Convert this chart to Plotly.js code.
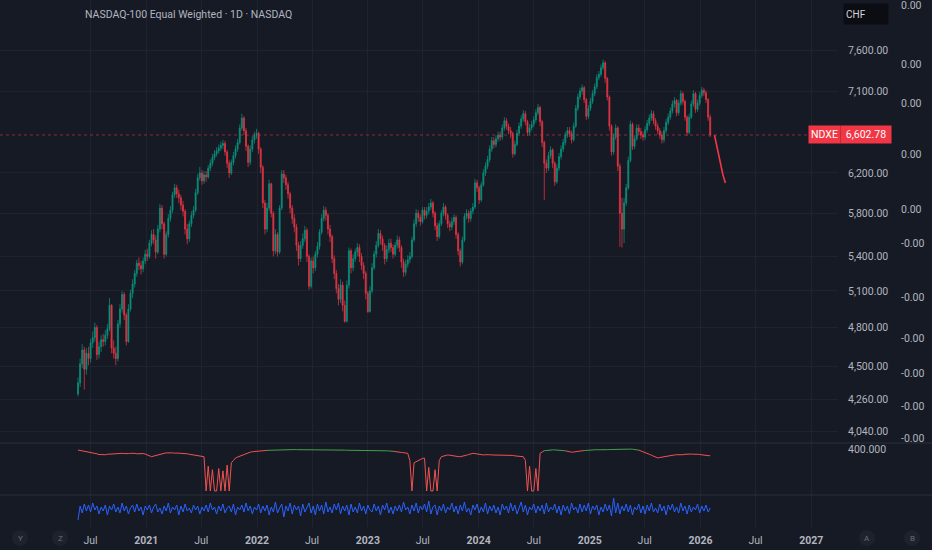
<!DOCTYPE html>
<html>
<head>
<meta charset="utf-8">
<script src="https://cdn.plot.ly/plotly-3.0.1.min.js"></script>
<style>
  html, body { margin: 0; padding: 0; background: #161a25; }
  #chart { width: 932px; height: 550px; }
</style>
</head>
<body>
<div id="chart"></div>
<script>
// NASDAQ-100 Equal Weighted, one candle per period (~1 week)
const firstOpen = 4300
const closes = [
  4380,4520,4625,4480,4600,4560,4680,4720,4800,4590,
  4650,4704,4690,4740,4790,4980,4640,4600,4560,4830,
  4950,5070,4900,4690,4950,5080,5160,5250,5340,5320,
  5290,5360,5420,5400,5520,5600,5550,5440,5650,5850,
  5700,5420,5600,5750,5830,5980,6050,5990,5950,5880,
  5820,5650,5560,5700,5780,5830,6000,6150,6200,6120,
  6180,6160,6250,6300,6360,6400,6430,6460,6490,6510,
  6420,6300,6200,6310,6380,6450,6520,6680,6790,6650,
  6480,6310,6450,6550,6600,6620,6450,6260,5900,5650,
  5850,6090,5800,5450,5600,5440,5850,6190,6150,6080,
  5990,5850,5750,5670,5500,5380,5500,5560,5640,5400,
  5140,5360,5300,5420,5490,5620,5750,5830,5780,5650,
  5580,5380,5250,5120,5030,5150,4980,4850,5150,5450,
  5300,5380,5440,5480,5400,5320,5250,5080,4930,5100,
  5300,5420,5500,5610,5560,5500,5380,5460,5520,5480,
  5420,5500,5550,5480,5350,5260,5330,5370,5400,5550,
  5700,5800,5760,5720,5830,5780,5820,5860,5900,5800,
  5680,5580,5700,5800,5860,5780,5700,5670,5720,5760,
  5600,5450,5350,5550,5770,5800,5750,5820,5860,6100,
  6050,5930,6080,6200,6270,6340,6450,6540,6500,6560,
  6600,6580,6680,6760,6700,6650,6620,6400,6500,6620,
  6700,6780,6840,6750,6630,6680,6720,6770,6850,6910,
  6750,6520,6300,6250,6380,6440,6300,6110,6250,6370,
  6450,6520,6600,6650,6620,6550,6700,6900,7030,7100,
  7140,7000,6810,6900,6980,7070,7150,7260,7300,7380,
  7440,7250,7030,6700,6420,6580,6680,6270,5800,5650,
  5900,6050,6330,6720,6480,6560,6680,6640,6600,6580,
  6660,6730,6790,6840,6760,6700,6650,6600,6550,6650,
  6740,6800,6870,6950,6990,6850,6960,7070,6980,6800,
  6630,6800,6950,7070,6890,6960,7050,7110,7080,7000,
  6800,6602.78
]
const highs = [
  4420,4560,4670,4650,4640,4650,4710,4770,4840,4820,
  4690,4740,4750,4780,4830,5040,4990,4700,4650,4860,
  4990,5100,5090,4920,4990,5110,5200,5280,5370,5390,
  5360,5390,5460,5470,5550,5640,5650,5590,5690,5890,
  5880,5720,5630,5790,5870,6010,6090,6080,6030,5980,
  5920,5840,5700,5730,5820,5870,6040,6190,6262,6230,
  6220,6220,6280,6340,6400,6440,6470,6500,6530,6550,
  6540,6440,6330,6340,6420,6490,6560,6720,6840,6810,
  6680,6500,6490,6590,6640,6670,6640,6470,6280,5930,
  5900,6130,6100,5820,5650,5620,5880,6230,6230,6180,
  6110,6010,5880,5790,5700,5530,5540,5610,5680,5660,
  5420,5390,5400,5450,5530,5650,5790,5870,5860,5800,
  5690,5600,5410,5280,5160,5200,5180,5020,5190,5480,
  5470,5420,5470,5520,5510,5430,5350,5270,5100,5140,
  5340,5450,5540,5650,5640,5590,5520,5500,5560,5560,
  5510,5530,5590,5580,5500,5380,5370,5410,5440,5580,
  5740,5840,5830,5790,5860,5860,5860,5900,5940,5920,
  5820,5710,5730,5830,5900,5880,5800,5730,5760,5790,
  5780,5620,5470,5580,5800,5840,5830,5850,5900,6140,
  6130,6070,6110,6240,6310,6380,6490,6580,6580,6600,
  6640,6640,6720,6800,6790,6730,6690,6640,6540,6660,
  6740,6820,6880,6870,6770,6720,6760,6810,6890,6950,
  6930,6770,6540,6340,6420,6480,6460,6320,6290,6410,
  6490,6560,6640,6690,6690,6650,6740,6940,7070,7140,
  7180,7160,7020,6940,7020,7110,7190,7300,7340,7420,
  7480,7460,7270,7050,6720,6620,6720,6700,6300,5950,
  5950,6090,6370,6760,6740,6600,6720,6720,6680,6640,
  6700,6770,6830,6880,6870,6790,6730,6680,6640,6690,
  6780,6840,6910,6990,7030,7010,7000,7110,7090,7000,
  6820,6840,6990,7110,7090,7000,7090,7150,7140,7110,
  7020,6830
]
const lows = [
  4283,4350,4490,4332,4440,4510,4530,4640,4690,4550,
  4560,4610,4650,4660,4710,4770,4600,4560,4510,4540,
  4800,4920,4860,4660,4680,4930,5040,5130,5220,5280,
  5240,5260,5330,5360,5380,5490,5510,5380,5420,5620,
  5650,5380,5400,5570,5720,5800,5950,5950,5900,5830,
  5770,5600,5510,5530,5670,5750,5810,5980,6120,6080,
  6090,6110,6140,6220,6270,6330,6370,6400,6430,6450,
  6380,6250,6150,6180,6280,6350,6420,6500,6650,6600,
  6430,6260,6280,6420,6510,6560,6400,6200,5850,5600,
  5620,5820,5760,5400,5420,5400,5420,5830,6100,6030,
  5940,5800,5700,5620,5450,5320,5350,5470,5530,5350,
  5110,5120,5250,5270,5390,5460,5600,5720,5730,5600,
  5530,5340,5200,5080,4980,5000,4930,4839,4840,5120,
  5250,5270,5350,5400,5350,5280,5200,5030,4919,4920,
  5080,5280,5390,5480,5510,5450,5330,5350,5430,5440,
  5380,5400,5470,5440,5300,5220,5230,5300,5340,5380,
  5530,5670,5720,5680,5700,5740,5750,5790,5830,5760,
  5640,5540,5560,5680,5770,5740,5660,5630,5640,5690,
  5560,5410,5310,5330,5530,5740,5710,5720,5790,5840,
  6010,5890,5910,6060,6170,6240,6310,6420,6460,6470,
  6530,6540,6550,6650,6660,6610,6570,6360,6380,6480,
  6590,6670,6750,6710,6590,6600,6650,6690,6740,6820,
  6700,6470,5930,6200,6220,6350,6250,6070,6090,6220,
  6340,6420,6490,6570,6580,6510,6530,6680,6870,7000,
  7060,6960,6770,6780,6870,6950,7040,7120,7230,7270,
  7350,7200,6990,6650,6380,6390,6550,6220,5487,5480,
  5520,5870,6030,6310,6440,6450,6540,6600,6560,6540,
  6550,6630,6700,6760,6720,6660,6610,6560,6510,6520,
  6620,6710,6770,6840,6910,6810,6820,6930,6940,6760,
  6590,6610,6780,6920,6850,6860,6930,7020,7040,6960,
  6760,6580
]
// falling red line after the last candle
const tailDates = ['2026-02-16', '2026-02-26', '2026-03-07', '2026-03-16', '2026-03-24']
const tailValues = [6602.78, 6440, 6282, 6179, 6098]

// upper indicator pane (red / green line)
const indValues = [
  391,388,384,380,376,372,368,366,362,358,
  352,350,348,350,354,356,358,360,360,362,
  364,362,360,358,360,362,364,362,358,360,
  362,360,356,348,340,333,338,344,350,354,
  358,362,366,368,368,366,364,366,364,362,
  362,360,358,354,350,348,346,344,340,336,
  333,35,250,35,220,35,35,230,35,210,
  35,260,35,280,300,322,330,338,346,354,
  362,366,372,376,378,380,382,384,385,387,
  388,389,390,391,391,392,393,393,394,394,
  394,395,395,395,394,394,395,396,396,395,
  395,396,395,394,394,393,393,392,392,391,
  391,390,390,391,392,392,391,390,389,389,
  388,388,389,390,390,389,388,387,386,386,
  387,388,388,387,386,385,385,384,383,382,
  380,376,374,372,370,368,365,362,300,35,
  280,290,300,310,318,320,35,240,35,35,
  220,35,300,333,340,344,348,346,342,338,
  336,334,333,336,340,346,352,358,362,360,
  356,352,348,348,350,352,350,348,348,350,
  350,348,346,348,348,348,346,344,340,338,
  336,334,333,300,35,250,35,35,230,35,
  362,374,385,388,390,391,392,392,391,391,
  390,388,384,378,374,372,374,378,380,382,
  384,386,388,390,392,393,394,394,393,392,
  392,393,394,395,396,396,396,397,398,399,
  400,400,400,399,398,396,394,390,384,378,
  370,362,354,346,338,328,322,326,330,334,
  338,342,345,348,348,350,348,346,350,354,
  356,358,356,354,356,354,352,348,346,344,
  342,342
]
// index ranges where that line is green
const indGreenRanges = [[90, 150], [222, 232], [241, 267]]

// lower indicator pane (blue oscillator)
const oscValues = [
  -11,3,-4,5,-2,4,-3,6,-1,3,
  -5,2,-2,4,-6,3,-1,5,-3,2,
  -4,6,-2,3,-5,1,4,-3,5,-2,
  2,-6,3,-1,4,-4,2,5,-3,1,
  -5,3,-2,6,-4,2,-1,4,-6,3,
  -3,5,-2,1,-4,4,-1,3,-5,2,
  -2,4,-3,6,-1,2,-5,3,-2,5,
  -4,1,3,-3,5,-6,2,-1,4,-3,
  6,-2,3,-5,2,-1,5,-4,3,-2,
  4,-6,2,-3,7,-4,1,5,-8,3,
  -2,6,-5,4,-1,3,-7,5,-3,2,
  6,-4,3,-6,5,-2,4,-5,7,-3,
  2,-4,5,-1,6,-5,3,-2,4,-6,
  5,-3,2,-4,6,-2,3,-5,4,-1,
  -3,5,-2,3,-6,4,-1,6,-4,2,
  -5,3,-2,4,-3,7,-1,2,-5,4,
  -2,6,-4,3,-1,5,-3,8,-5,2,
  4,-6,3,-2,5,-4,2,-1,6,-3,
  3,-5,4,-2,7,-3,1,-6,4,-1,
  5,-4,2,-3,6,-5,3,-2,4,-4,
  2,-6,5,-1,3,-4,6,-2,4,-5,
  1,7,-3,4,-6,2,-1,5,-4,3,
  -2,4,-5,6,-3,2,-1,5,-4,3,
  -6,4,-2,3,-5,6,-1,2,-4,5,
  -3,4,-2,6,-5,3,-1,4,-6,2,
  -3,5,-2,4,-7,11,-4,6,-5,3,
  -2,5,-3,4,-6,2,-1,5,-4,3,
  -5,4,-2,6,-3,1,-4,5,-2,3,
  -6,4,-1,5,-3,2,-4,6,-2,3,
  -5,4,-3,2,-1,5,-4,3,-2,4,
  -3,1
]

// axis labels
const priceTicks = [4040, 4260, 4500, 4800, 5100, 5400, 5800, 6200, 7100, 7600]
const zeroScaleTicks = [0.0043, 0.00313, 0.00235, 0.00134, 0.00025, -0.00043, -0.0015, -0.00233, -0.00301, -0.00368, -0.0043]
const timeTicks = ['2020-07-01','2021-01-01','2021-07-01','2022-01-01','2022-07-01','2023-01-01','2023-07-01',
  '2024-01-01','2024-07-01','2025-01-01','2025-07-01','2026-01-01','2026-07-01','2027-01-01']
const timeLabels = ['Jul','2021','Jul','2022','Jul','2023','Jul','2024','Jul','2025','Jul','2026','Jul','2027']
const lastPrice = 6602.78

const W = 932, H = 550
const px = x => x / W
const py = y => 1 - y / H
const FONT = 'Roboto, "Noto Sans", sans-serif'
const TXT = '#b2b5be'
const GRID = '#1f2330'
const UP = '#089981', DOWN = '#f23645'

// one candle per period, spread between first and last date
const t0 = Date.UTC(2020, 4, 21)
const stepMs = 6.92 * 86400000
const dates = closes.map((c, i) => new Date(t0 + i * stepMs).toISOString().slice(0, 19).replace('T', ' '))
const opens = [firstOpen].concat(closes.slice(0, -1))

const fmt = v => v.toLocaleString('en-US', {minimumFractionDigits: 2, maximumFractionDigits: 2})

let inGreen = i => indGreenRanges.some(r => i >= r[0] && i <= r[1])
let inGreenInner = i => indGreenRanges.some(r => i > r[0] && i < r[1])
let indRed = indValues.map((v, i) => inGreenInner(i) ? null : v)
let indGreen = indValues.map((v, i) => inGreen(i) ? v : null)

let traces = [
  {
    type: 'candlestick', x: dates, open: opens, high: highs, low: lows, close: closes,
    xaxis: 'x', yaxis: 'y',
    increasing: {line: {color: UP, width: 0.7}, fillcolor: 'rgba(8,153,129,0.85)'},
    decreasing: {line: {color: DOWN, width: 0.7}, fillcolor: 'rgba(242,54,69,0.85)'},
    whiskerwidth: 0, hoverinfo: 'skip'
  },
  {
    type: 'scatter', mode: 'lines', x: ['2019-09-07', '2026-12-20'], y: [lastPrice, lastPrice],
    yaxis: 'y', line: {color: 'rgba(242,54,69,0.55)', width: 1, dash: 'dot'}, hoverinfo: 'skip'
  },
  {
    type: 'scatter', mode: 'lines', x: tailDates, y: tailValues, yaxis: 'y',
    line: {color: DOWN, width: 1.6}, hoverinfo: 'skip'
  },
  {
    type: 'scatter', mode: 'lines', x: dates, y: indRed, yaxis: 'y2',
    line: {color: '#f05350', width: 1}, connectgaps: false, hoverinfo: 'skip'
  },
  {
    type: 'scatter', mode: 'lines', x: dates, y: indGreen, yaxis: 'y2',
    line: {color: '#43a047', width: 1}, connectgaps: false, hoverinfo: 'skip'
  },
  {
    type: 'scatter', mode: 'lines', x: dates, y: oscValues, yaxis: 'y3',
    line: {color: '#2962ff', width: 1}, hoverinfo: 'skip'
  },
  {
    type: 'scatter', mode: 'markers', x: [dates[0]], y: [0], yaxis: 'y4',
    marker: {opacity: 0}, hoverinfo: 'skip'
  }
]

let badges = [['Y', 20], ['Z', 60], ['A', 867], ['B', 912]]

let layout = {
  width: W, height: H,
  margin: {l: 0, r: 0, t: 0, b: 0},
  paper_bgcolor: '#161a25',
  plot_bgcolor: '#161a25',
  showlegend: false,
  font: {family: FONT, size: 10.5, color: TXT},
  xaxis: {
    domain: [0, px(838)], type: 'date', range: ['2019-09-07', '2027-03-30'],
    anchor: 'y3', tickvals: timeTicks,
    ticktext: timeLabels.map(t => t === 'Jul' ? t : '<b>' + t + '</b>'),
    tickangle: 0,
    ticks: '', ticklabelstandoff: 5, showgrid: true, gridcolor: GRID,
    zeroline: false, showline: false, rangeslider: {visible: false},
    tickfont: {size: 10.5, color: TXT}
  },
  yaxis: {
    domain: [py(443), 1], type: 'log', range: [Math.log10(3965), Math.log10(8256)],
    side: 'right', tickvals: priceTicks, ticktext: priceTicks.map(fmt),
    ticks: '', ticklabelstandoff: 9, showgrid: true, gridcolor: GRID, zeroline: false
  },
  yaxis2: {
    domain: [py(495), py(443)], range: [0, 452], side: 'right',
    tickvals: [400], ticktext: ['400.000'],
    ticks: '', ticklabelstandoff: 9, showgrid: false, zeroline: false
  },
  yaxis3: {
    domain: [py(527), py(495)], range: [-18, 14],
    showticklabels: false, showgrid: false, zeroline: false, ticks: ''
  },
  yaxis4: {
    overlaying: 'y', anchor: 'free', position: px(897), side: 'right',
    range: [-0.0044, 0.0044], tickvals: zeroScaleTicks,
    ticktext: zeroScaleTicks.map(v => v.toFixed(2)), ticklabeloverflow: 'allow',
    ticks: '', ticklabelstandoff: 3, showgrid: false, zeroline: false, showline: false
  },
  shapes: [
    {type: 'line', xref: 'paper', yref: 'paper', x0: 0, x1: 1, y0: py(443), y1: py(443), line: {color: '#2a2e39', width: 1}},
    {type: 'line', xref: 'paper', yref: 'paper', x0: 0, x1: 1, y0: py(495), y1: py(495), line: {color: '#2a2e39', width: 1}}
  ].concat(badges.map(b => ({
    type: 'circle', xref: 'paper', yref: 'paper',
    x0: px(b[1] - 8), x1: px(b[1] + 8), y0: py(546), y1: py(530),
    fillcolor: '#1e222d', line: {width: 0}
  }))),
  annotations: [
    {
      xref: 'paper', yref: 'paper', x: px(83), y: py(14), xanchor: 'left', yanchor: 'middle',
      text: 'NASDAQ-100 Equal Weighted · 1D · NASDAQ', showarrow: false,
      font: {size: 10.5, color: TXT}
    },
    {
      xref: 'paper', yref: 'paper', x: px(843), y: py(14), xanchor: 'left', yanchor: 'middle',
      text: 'CHF', showarrow: false, align: 'left', width: 40, height: 16, borderpad: 2,
      bgcolor: '#0b0d12', font: {size: 10, color: '#d1d4dc'}
    },
    {
      xref: 'paper', yref: 'y', x: px(808), y: Math.log10(lastPrice), xanchor: 'left', yanchor: 'middle',
      text: 'NDXE', showarrow: false, width: 27, height: 13, borderpad: 2,
      bgcolor: DOWN, font: {size: 10.5, color: '#ffffff'}
    },
    {
      xref: 'paper', yref: 'y', x: px(840), y: Math.log10(lastPrice), xanchor: 'left', yanchor: 'middle',
      text: fmt(lastPrice), showarrow: false, width: 46, height: 13, borderpad: 2,
      bgcolor: DOWN, font: {size: 10.5, color: '#ffffff'}
    }
  ].concat(badges.map(b => ({
    xref: 'paper', yref: 'paper', x: px(b[1]), y: py(538), xanchor: 'center', yanchor: 'middle',
    text: b[0], showarrow: false, font: {size: 8, color: '#6a6d78'}
  })))
}

Plotly.newPlot('chart', traces, layout, {displayModeBar: false, staticPlot: true})
</script>
</body>
</html>
